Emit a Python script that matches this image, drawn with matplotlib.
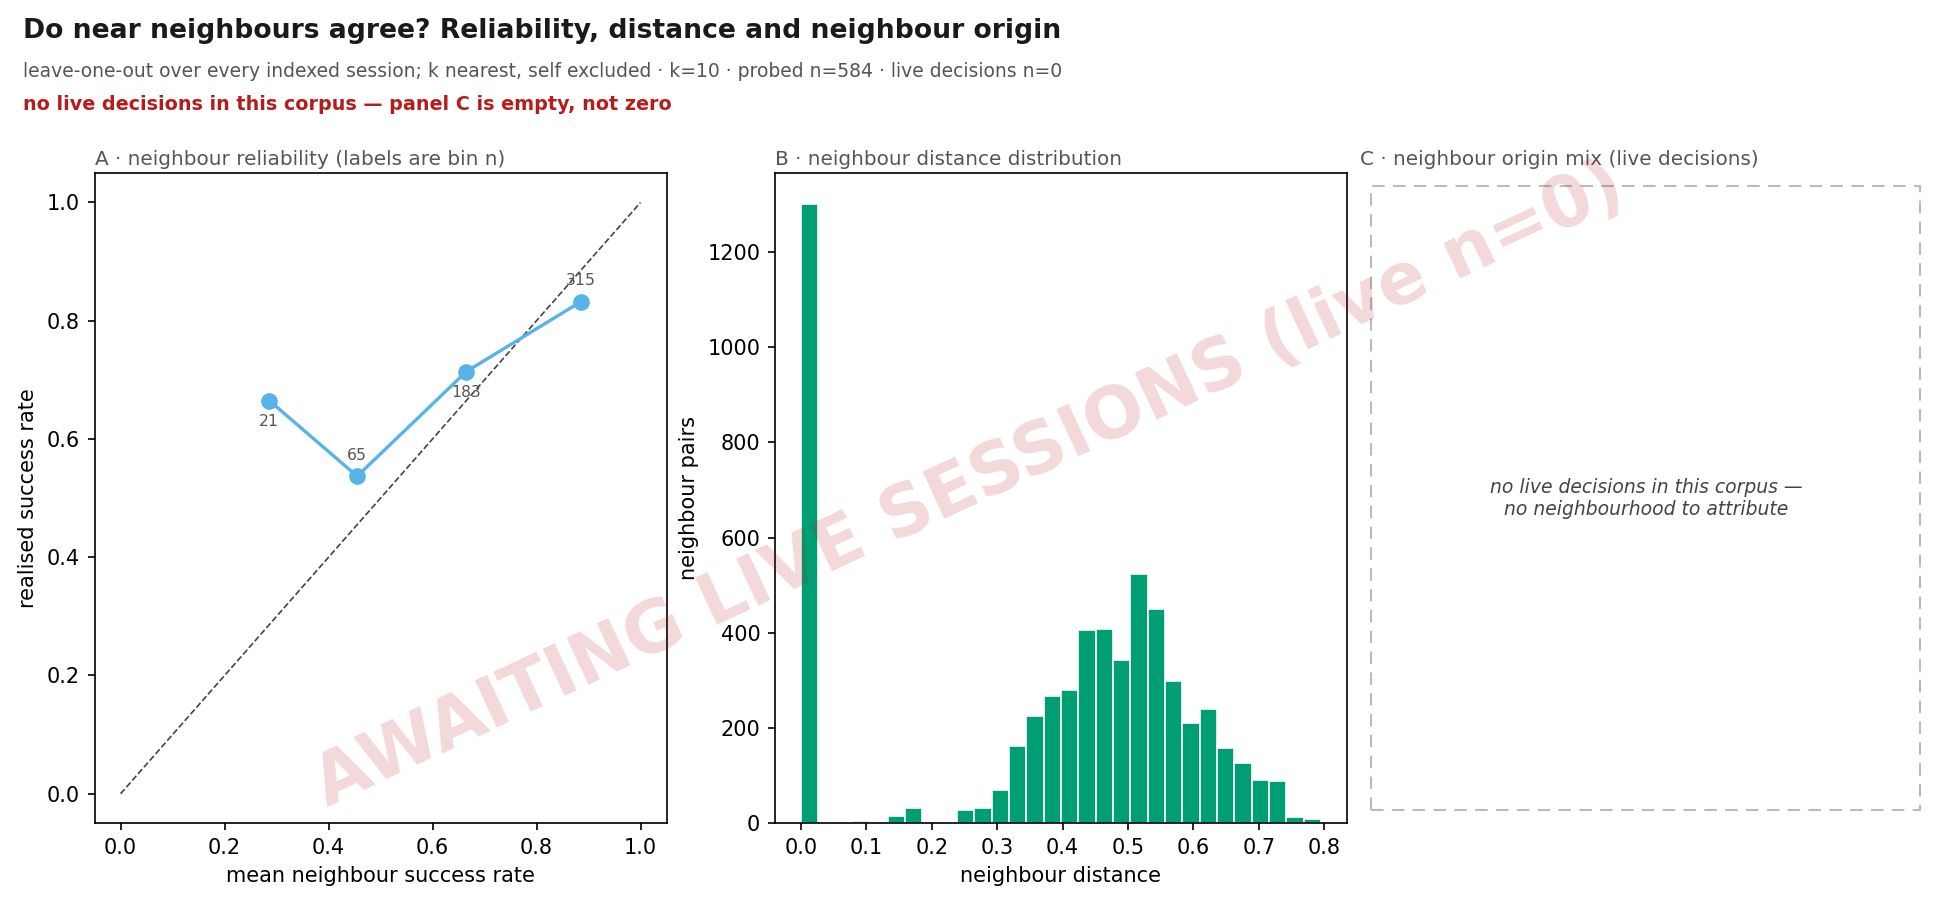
import numpy as np
import matplotlib
matplotlib.use("Agg")
import matplotlib.pyplot as plt
from matplotlib.patches import Rectangle

# panel A: reliability bins
rel_pred = [0.286, 0.455, 0.665, 0.885]
rel_real = [0.665, 0.537, 0.714, 0.832]
rel_n = [21, 65, 183, 315]

# panel B: neighbour distance histogram (30 bins over 0 .. dist_max)
dist_max = 0.795
dist_counts = [1301, 0, 0, 5, 0, 15, 33, 0, 0, 29,
               33, 69, 162, 226, 268, 281, 406, 408, 342, 524,
               450, 299, 210, 240, 158, 126, 92, 88, 13, 9]

k = 10
probed_n = 584
live_n = 0

GREY = "#444444"
RED = "#b71c1c"

fig = plt.figure(figsize=(13, 6), dpi=150)

fig.text(0.012, 0.965, "Do near neighbours agree? Reliability, distance and neighbour origin",
         fontsize=12.75, fontweight="bold", color="#1a1a1a", va="center")
fig.text(0.012, 0.921,
         f"leave-one-out over every indexed session; k nearest, self excluded \u00b7 k={k} \u00b7 "
         f"probed n={probed_n} \u00b7 live decisions n={live_n}",
         fontsize=9, color="#555555", va="center")
fig.text(0.012, 0.884, "no live decisions in this corpus \u2014 panel C is empty, not zero",
         fontsize=9.2, fontweight="bold", color=RED, va="center")

axA = fig.add_axes([0.0485, 0.0852, 0.2933, 0.7227])
axB = fig.add_axes([0.3974, 0.0852, 0.2933, 0.7227])
axC = fig.add_axes([0.6974, 0.0852, 0.2933, 0.7227])

# A
axA.plot([0, 1], [0, 1], ls="--", color=GREY, lw=0.8)
axA.plot(rel_pred, rel_real, "-o", color="#56B4E9", lw=1.6, ms=7)
for i, (x, y, n) in enumerate(zip(rel_pred, rel_real, rel_n)):
    dy = -10 if i % 2 == 0 else 10
    axA.annotate(str(n), (x, y), xytext=(0, dy), textcoords="offset points",
                 ha="center", va="center", fontsize=7.5, color="#555555")
axA.set_xlim(-0.05, 1.05)
axA.set_ylim(-0.05, 1.05)
axA.set_xlabel("mean neighbour success rate")
axA.set_ylabel("realised success rate")
axA.set_title("A \u00b7 neighbour reliability (labels are bin n)", loc="left", fontsize=9.6,
              color="#555555", pad=4)

# B
edges = np.linspace(0, dist_max, len(dist_counts) + 1)
centers = (edges[:-1] + edges[1:]) / 2
axB.hist(centers, bins=edges, weights=dist_counts, color="#009E73", edgecolor="white", linewidth=0.8)
axB.set_xlabel("neighbour distance")
axB.set_ylabel("neighbour pairs")
axB.set_title("B \u00b7 neighbour distance distribution", loc="left", fontsize=9.6,
              color="#555555", pad=4)

# C
axC.axis("off")
axC.add_patch(Rectangle((0.02, 0.02), 0.96, 0.96, transform=axC.transAxes, fill=False,
                        ls=(0, (6, 4)), color="#bbbbbb", lw=1))
axC.text(0.5, 0.5, "no live decisions in this corpus \u2014\nno neighbourhood to attribute",
         transform=axC.transAxes, ha="center", va="center", fontsize=9,
         style="italic", color=GREY)
axC.set_title("C \u00b7 neighbour origin mix (live decisions)", loc="left", fontsize=9.6,
              color="#555555", pad=4)

fig.text(0.497, 0.46, "AWAITING LIVE SESSIONS (live n=0)", rotation=25,
         fontsize=34, fontweight="bold", color=RED, alpha=0.17,
         ha="center", va="center")

fig.savefig("out.png", dpi=150)
